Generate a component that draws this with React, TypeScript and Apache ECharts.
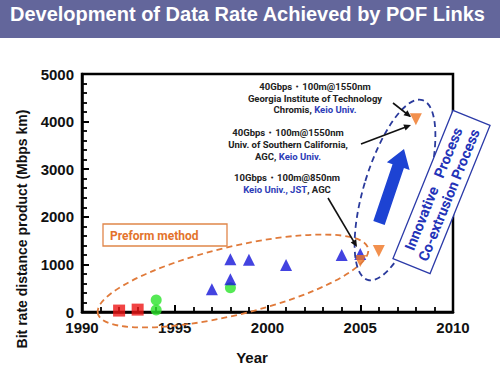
import React, { useEffect, useRef } from "react";
import * as echarts from "echarts";

const TITLE = "Development of Data Rate Achieved by POF Links";
const X_NAME = "Year";
const Y_NAME = "Bit rate distance product (Mbps km)";

const redYears = [1992, 1993];
const redValues = [30, 50];
const greenYears = [1994, 1994, 1998];
const greenValues = [250, 40, 510];
const blueYears = [1997, 1998, 1998, 1999, 2001, 2004, 2005];
const blueValues = [480, 690, 1110, 1100, 990, 1200, 1220];
const orangeYears = [2005, 2006, 2008];
const orangeValues = [1070, 1280, 4050];

const FONT = "'Liberation Sans', Arial, sans-serif";
const NOTE_FONT = "Roboto, 'Noto Sans', sans-serif";
const DARK = "#222222";
const NOTE_BLUE = "#2d3db8";

function pairs(xs: number[], ys: number[]) {
  return xs.map((x, i) => [x, ys[i]]);
}

function arrowHead(x1: number, y1: number, x2: number, y2: number, len = 6, hw = 3) {
  const dx = x2 - x1, dy = y2 - y1;
  const L = Math.hypot(dx, dy);
  const ux = dx / L, uy = dy / L;
  const nx = -uy, ny = ux;
  const bx = x2 - ux * len, by = y2 - uy * len;
  return [
    [x2, y2],
    [bx + nx * hw, by + ny * hw],
    [bx - nx * hw, by - ny * hw],
  ];
}

function noteArrow(x1: number, y1: number, x2: number, y2: number) {
  return [
    { type: "line", z: 110, shape: { x1, y1, x2: x2 - (x2 - x1) * 0.05, y2: y2 - (y2 - y1) * 0.05 }, style: { stroke: "#111", lineWidth: 1.6 } },
    { type: "polygon", z: 110, shape: { points: arrowHead(x1, y1, x2, y2, 7, 3.2) }, style: { fill: "#111" } },
  ];
}

const richStyles = {
  d: { fill: DARK, fontSize: 9.5, fontWeight: "bold", fontFamily: NOTE_FONT },
  b: { fill: NOTE_BLUE, fontSize: 9.5, fontWeight: "bold", fontFamily: NOTE_FONT },
};

function noteLine(cx: number, cy: number, text: string) {
  return {
    type: "text",
    z: 110,
    x: cx,
    y: cy,
    style: { text, rich: richStyles, align: "center", verticalAlign: "middle" },
  };
}

export default function App() {
  const ref = useRef<HTMLDivElement>(null);
  useEffect(() => {
    if (!ref.current) return;
    const chart = echarts.init(ref.current, undefined, { renderer: "svg" });

    // big blue arrow geometry
    const T = [379, 223];
    const tip = [404, 149];
    const dx = tip[0] - T[0], dy = tip[1] - T[1];
    const L = Math.hypot(dx, dy);
    const ux = dx / L, uy = dy / L;
    const nx = -uy, ny = ux;
    const B = [T[0] + ux * (L - 18), T[1] + uy * (L - 18)];
    const sw = 6, hw = 12;
    const bigArrow = [
      [T[0] - nx * sw, T[1] - ny * sw],
      [B[0] - nx * sw, B[1] - ny * sw],
      [B[0] - nx * hw, B[1] - ny * hw],
      tip,
      [B[0] + nx * hw, B[1] + ny * hw],
      [B[0] + nx * sw, B[1] + ny * sw],
      [T[0] + nx * sw, T[1] + ny * sw],
    ];

    const deg = Math.PI / 180;
    const plain = (v: number) => String(v);

    const option = {
      animation: false,
      backgroundColor: "#ffffff",
      grid: {
        left: 82,
        right: 47,
        top: 74,
        bottom: 57,
        show: true,
        borderColor: "#000",
        borderWidth: 2.5,
        backgroundColor: "transparent",
      },
      xAxis: {
        type: "value",
        min: 1990,
        max: 2010,
        interval: 5,
        axisLine: { show: true, lineStyle: { color: "#000", width: 2.5 } },
        axisTick: { show: true, inside: true, length: 7, lineStyle: { color: "#000", width: 2 } },
        minorTick: { show: true, splitNumber: 5, length: 5, lineStyle: { color: "#000", width: 1.8 } },
        splitLine: { show: false },
        axisLabel: { color: "#111", fontSize: 15, fontWeight: "bold", fontFamily: FONT, margin: 8, formatter: plain },
      },
      yAxis: {
        type: "value",
        min: 0,
        max: 5000,
        interval: 1000,
        axisLine: { show: true, lineStyle: { color: "#000", width: 2.5 } },
        axisTick: { show: true, inside: true, length: 7, lineStyle: { color: "#000", width: 2 } },
        minorTick: { show: true, splitNumber: 5, length: 5, lineStyle: { color: "#000", width: 1.8 } },
        splitLine: { show: false },
        axisLabel: { color: "#111", fontSize: 15, fontWeight: "bold", fontFamily: FONT, margin: 8, formatter: plain },
      },
      series: [
        { type: "scatter", name: "red", data: pairs(redYears, redValues), symbol: "rect", symbolSize: 12, itemStyle: { color: "#ee1515" }, z: 5 },
        { type: "scatter", name: "green", data: pairs(greenYears, greenValues), symbol: "circle", symbolSize: 11, itemStyle: { color: "#2be32b" }, z: 5 },
        { type: "scatter", name: "blue", data: pairs(blueYears, blueValues), symbol: "triangle", symbolSize: 12, itemStyle: { color: "#1414d8" }, z: 5 },
        { type: "scatter", name: "orange", data: pairs(orangeYears, orangeValues), symbol: "triangle", symbolRotate: 180, symbolSize: 12, itemStyle: { color: "#ef7422" }, z: 6 },
      ],
      graphic: [
        // title banner
        { type: "rect", z: 100, shape: { x: 0, y: 0, width: 500, height: 38 }, style: { fill: "#63669b" } },
        { type: "text", z: 101, x: 10, y: 13.5, style: { text: TITLE, fill: "#ffffff", fontSize: 20, fontWeight: "bold", fontFamily: FONT, align: "left", verticalAlign: "middle" } },
        // axis names
        { type: "text", z: 101, x: 252, y: 357, style: { text: X_NAME, fill: "#111", fontSize: 15, fontWeight: "bold", fontFamily: FONT, align: "center", verticalAlign: "middle" } },
        { type: "text", z: 101, x: 22, y: 229, rotation: Math.PI / 2, style: { text: Y_NAME, fill: "#111", fontSize: 14, fontWeight: "bold", fontFamily: FONT, align: "center", verticalAlign: "middle" } },
        // preform box
        { type: "rect", z: 101, shape: { x: 103, y: 224, width: 124, height: 22 }, style: { fill: "#fff", stroke: "#e0864a", lineWidth: 1.3 } },
        { type: "text", z: 102, x: 110, y: 235.5, style: { text: "Preform method", fill: "#e3732c", fontSize: 12, fontWeight: "bold", fontFamily: NOTE_FONT, align: "left", verticalAlign: "middle" } },
        // orange dashed ellipse
        { type: "ellipse", z: 104, x: 233, y: 281, rotation: 13.6 * deg, shape: { cx: 0, cy: 0, rx: 139, ry: 34 }, style: { fill: "none", stroke: "#e07a3a", lineWidth: 1.8, lineDash: [6, 4] } },
        // blue dashed ellipse
        { type: "ellipse", z: 104, x: 395, y: 190, rotation: -17 * deg, shape: { cx: 0, cy: 0, rx: 31, ry: 94 }, style: { fill: "none", stroke: "#2a3a9c", lineWidth: 1.8, lineDash: [6, 4] } },
        // big blue arrow
        { type: "polygon", z: 105, shape: { points: bigArrow }, style: { fill: "#1d43d3" } },
        // rotated process box
        {
          type: "group",
          z: 106,
          x: 441.5,
          y: 192,
          rotation: 68 * deg,
          children: [
            { type: "rect", z: 106, shape: { x: -80, y: -20, width: 160, height: 40 }, style: { fill: "#ffffff", stroke: "#2b3aa8", lineWidth: 1.3 } },
            { type: "text", z: 107, x: 0, y: -8, style: { text: "Innovative   Process", fill: "#2333b8", fontSize: 14.5, fontWeight: "bold", fontFamily: NOTE_FONT, align: "center", verticalAlign: "middle" } },
            { type: "text", z: 107, x: 0, y: 8.5, style: { text: "Co-extrusion Process", fill: "#2333b8", fontSize: 14.5, fontWeight: "bold", fontFamily: NOTE_FONT, align: "center", verticalAlign: "middle" } },
          ],
        },
        // annotation notes
        noteLine(315, 86, "{d|40Gbps・100m@1550nm}"),
        noteLine(315, 98, "{d|Georgia Institute of Technology}"),
        noteLine(315, 109.5, "{d|Chromis, }{b|Keio Univ.}"),
        noteLine(288, 132, "{d|40Gbps・100m@1550nm}"),
        noteLine(288, 144, "{d|Univ. of Southern California,}"),
        noteLine(288, 156, "{d|AGC, }{b|Keio Univ.}"),
        noteLine(287, 177, "{d|10Gbps・100m@850nm}"),
        noteLine(287, 189, "{b|Keio Univ., JST}{d|, AGC}"),
        ...noteArrow(393, 103, 411, 117),
        ...noteArrow(361, 144, 411, 125),
        ...noteArrow(328, 198, 357, 247),
      ],
    };
    chart.setOption(option as any);
    return () => chart.dispose();
  }, []);
  return <div ref={ref} style={{ position: "fixed", left: 0, top: 0, width: 500, height: 369 }} />;
}
